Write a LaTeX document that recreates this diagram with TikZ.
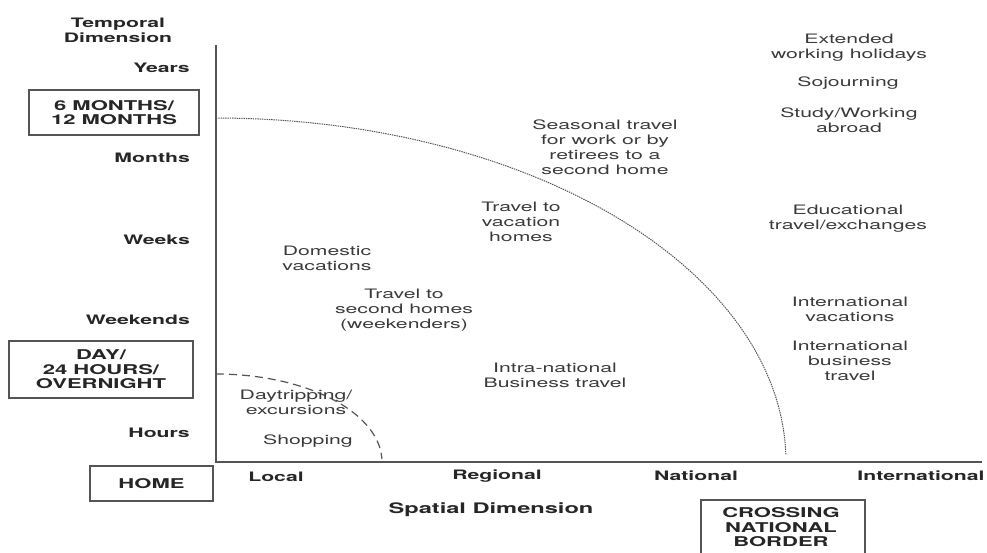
\documentclass[tikz,border=0pt]{standalone}
\usepackage{fontspec}
\setmainfont[FakeStretch=1.63]{TeX Gyre Heros}
\definecolor{linegray}{HTML}{555555}
\definecolor{labelgray}{HTML}{262626}
\definecolor{textgray}{HTML}{3A3A3A}
\tikzset{
  axislabel/.style={font=\bfseries\fontsize{13}{15}\selectfont, text=labelgray, inner sep=0pt, align=center},
  activity/.style={font=\fontsize{13}{15}\selectfont, text=textgray, inner sep=0pt, align=center},
  thresholdbox/.style={draw=linegray, line width=1.2pt, font=\bfseries\fontsize{13.5}{14.5}\selectfont,
    text=labelgray, inner sep=0pt, align=center},
  axisline/.style={draw=linegray, line width=2pt},
  outerlimit/.style={draw=linegray, line width=1pt, dash pattern=on 1.4pt off 0.9pt},
  innerlimit/.style={draw=linegray, line width=1.2pt, dash pattern=on 8pt off 5pt},
}
\begin{document}
\begin{tikzpicture}[x=1pt, y=-1pt]
\useasboundingbox (0,0) rectangle (987,552);

% axes
\coordinate (top) at (216,45);
\coordinate (origin) at (216,462);
\coordinate (right) at (982,462);
\draw[axisline] (top) -- (origin) -- (right);

% limits of the one-year and the one-day trip
\draw[outerlimit] plot[domain=90:1.2, samples=120] ({216+570*cos(\x)}, {462-344*sin(\x)});
\draw[innerlimit] plot[domain=90:2, samples=60] ({216+166*cos(\x)}, {462-88*sin(\x)});

% temporal axis
\node[axislabel] (tdim) at (118,30.5) {Temporal\\Dimension};
\node[axislabel, anchor=east] (years) at (190,68) {Years};
\node[thresholdbox, minimum width=170pt, minimum height=45pt] (year) at (114,112.5) {6 MONTHS/\\12 MONTHS};
\node[axislabel, anchor=east] (months) at (190,158) {Months};
\node[axislabel, anchor=east] (weeks) at (190,240) {Weeks};
\node[axislabel, anchor=east] (weekends) at (190,320) {Weekends};
\node[thresholdbox, minimum width=184pt, minimum height=57pt] (day) at (101,369.5) {DAY/\\24 HOURS/\\OVERNIGHT};
\node[axislabel, anchor=east] (hours) at (190,433) {Hours};
\node[thresholdbox, minimum width=123pt, minimum height=35pt] (home) at (151.5,483.5) {HOME};

% spatial axis
\node[axislabel] (local) at (276,477) {Local};
\node[axislabel] (regional) at (497,476) {Regional};
\node[axislabel] (national) at (696,476) {National};
\node[axislabel] (international) at (921,476) {International};
\node[axislabel, font=\bfseries\fontsize{14.5}{16}\selectfont] (sdim) at (491,510) {Spatial Dimension};
\node[thresholdbox, minimum width=164pt, minimum height=80pt] (border) at (783,540) {};
\node[axislabel, font=\bfseries\fontsize{13.5}{14.5}\selectfont] (bordertext) at (781,527.5) {CROSSING\\NATIONAL\\BORDER};

% forms of mobility
\node[activity] (extended) at (849,47.5) {Extended\\working holidays};
\node[activity] (sojourn) at (848,83) {Sojourning};
\node[activity] (study) at (849,120) {Study/Working\\abroad};
\node[activity] (seasonal) at (605,147.5) {Seasonal travel\\for work or by\\retirees to a\\second home};
\node[activity] (vachomes) at (521,222) {Travel to\\vacation\\homes};
\node[activity] (edu) at (848,218.5) {Educational\\travel/exchanges};
\node[activity] (domestic) at (327,258) {Domestic\\vacations};
\node[activity] (secondhomes) at (404,310) {Travel to\\second homes\\(weekenders)};
\node[activity] (intvac) at (850,309.5) {International\\vacations};
\node[activity] (intbus) at (850,360.5) {International\\business\\travel};
\node[activity] (intranat) at (555,375.5) {Intra-national\\Business travel};
\node[activity] (daytrip) at (296,402) {Daytripping/\\excursions};
\node[activity] (shopping) at (308,441) {Shopping};
\end{tikzpicture}
\end{document}
